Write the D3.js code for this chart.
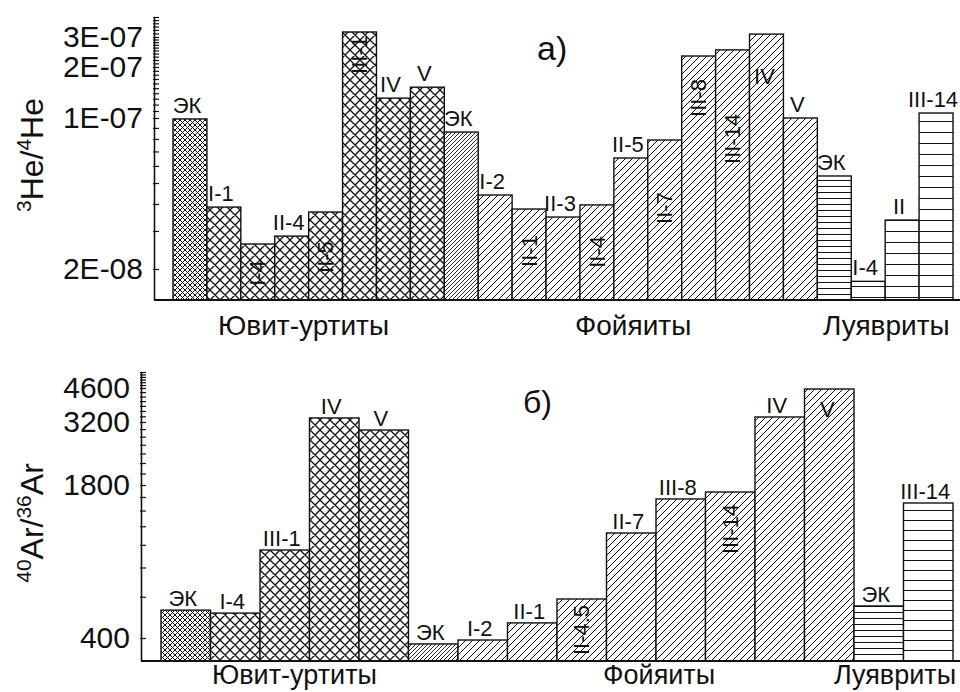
<!DOCTYPE html>
<html>
<head>
<meta charset="utf-8">
<script src="https://cdn.jsdelivr.net/npm/d3@7"></script>
<style>
  body { margin: 0; background: #fff; }
  svg { display: block; }
  text { font-family: "Liberation Sans", Arial, sans-serif; fill: #111; }
</style>
</head>
<body>
<div id="chart"></div>
<script>
// rock groups: 0 = Ювит-уртиты, 1 = Фойяиты, 2 = Луявриты
const rockNames = ["Ювит-уртиты", "Фойяиты", "Луявриты"];

// panel a) 3He/4He
const heCats = ["ЭК", "I-1", "I-4", "II-4", "II-5", "III-1", "IV", "V",
                "ЭК", "I-2", "II-1", "II-3", "II-4", "II-5", "II-7", "III-8", "III-14", "IV", "V",
                "ЭК", "I-4", "II", "III-14"];
const heRocks = [0, 0, 0, 0, 0, 0, 0, 0,
                 1, 1, 1, 1, 1, 1, 1, 1, 1, 1, 1,
                 2, 2, 2, 2];
const heValues = [9.9e-8, 3.87e-8, 2.61e-8, 2.84e-8, 3.67e-8, 3.14e-7, 1.31e-7, 1.52e-7,
                  8.61e-8, 4.40e-8, 3.79e-8, 3.48e-8, 3.96e-8, 6.53e-8, 7.91e-8, 2.32e-7, 2.52e-7, 3.08e-7, 1.0e-7,
                  5.39e-8, 1.83e-8, 3.37e-8, 1.07e-7];
const heTicks = [2e-8, 1e-7, 2e-7, 3e-7];
const heTickLabels = ["2E-08", "1E-07", "2E-07", "3E-07"];

// panel б) 40Ar/36Ar
const arCats = ["ЭК", "I-4", "III-1", "IV", "V",
                "ЭК", "I-2", "II-1", "II-4.5", "II-7", "III-8", "III-14", "IV", "V",
                "ЭК", "III-14"];
const arRocks = [0, 0, 0, 0, 0,
                 1, 1, 1, 1, 1, 1, 1, 1, 1,
                 2, 2];
const arValues = [526, 511, 950, 3341, 2974,
                  377, 392, 464, 587, 1123, 1569, 1680, 3376, 4551,
                  548, 1508];
const arTicks = [400, 1800, 3200, 4600];
const arTickLabels = ["400", "1800", "3200", "4600"];

const width = 960, height = 692;

const svg = d3.select("#chart").append("svg")
    .attr("width", width)
    .attr("height", height);

// hatch patterns
const defs = svg.append("defs");
function pattern(id, w, h, d, sw) {
    let p = defs.append("pattern")
        .attr("id", id)
        .attr("patternUnits", "userSpaceOnUse")
        .attr("width", w)
        .attr("height", h);
    p.append("rect").attr("width", w).attr("height", h).attr("fill", "#fff");
    p.append("path").attr("d", d).attr("stroke", "#111").attr("stroke-width", sw).attr("fill", "none");
}
const slash = s => `M0,${s}L${s},0M-1,1L1,-1M${s - 1},${s + 1}L${s + 1},${s - 1}`;
const back = s => `M0,0L${s},${s}M-1,${s - 1}L1,${s + 1}M${s - 1},-1L${s + 1},1`;
pattern("xfine", 5, 5, slash(5) + back(5), 1);
pattern("xcoarse", 10, 10, slash(10) + back(10), 1.3);
pattern("dfine", 4, 4, slash(4), 0.9);
pattern("diag", 7, 7, slash(7), 1);
pattern("hfine", 8, 6, "M0,0.5H8", 1);
pattern("horiz", 8, 11, "M0,0.5H8", 1);
pattern("horiz2", 8, 10, "M0,0.5H8", 1);

function fillFor(rock, cat, horizId) {
    let ek = cat == "ЭК";
    if (rock == 0) return ek ? "url(#xfine)" : "url(#xcoarse)";
    if (rock == 1) return ek ? "url(#dfine)" : "url(#diag)";
    return ek ? "url(#hfine)" : `url(#${horizId})`;
}

function drawPanel(c) {
    let g = svg.append("g");

    let x = d3.scaleBand()
        .domain(d3.range(c.cats.length))
        .range(c.xRange)
        .padding(0);

    let y = d3.scaleLog()
        .domain(c.yStops)
        .range(c.yPix);

    let base = c.yPix[0];

    // bars
    g.selectAll(".bar")
        .data(c.values)
        .join("rect")
        .attr("class", "bar")
        .attr("x", (d, i) => x(i))
        .attr("width", x.bandwidth())
        .attr("y", d => y(d))
        .attr("height", d => base - y(d))
        .attr("fill", (d, i) => fillFor(c.rocks[i], c.cats[i], c.horizId))
        .attr("stroke", "#111")
        .attr("stroke-width", 1.4);

    // bar labels
    c.values.forEach((v, i) => {
        let cx = x(i) + x.bandwidth() / 2;
        let top = y(v);
        if (c.inside[i] !== undefined) {
            g.append("text")
                .attr("transform", `translate(${cx},${top + c.inside[i]}) rotate(-90)`)
                .attr("text-anchor", "middle")
                .attr("dy", "0.35em")
                .attr("font-size", 22)
                .text(c.cats[i]);
        } else if (c.insideFlat[i] !== undefined) {
            g.append("text")
                .attr("x", cx - 2)
                .attr("y", top + c.insideFlat[i])
                .attr("text-anchor", "middle")
                .attr("font-size", 22)
                .text(c.cats[i]);
        } else {
            g.append("text")
                .attr("x", cx - 3)
                .attr("y", top - c.labelGap)
                .attr("text-anchor", "middle")
                .attr("font-size", 22)
                .text(c.cats[i]);
        }
    });

    // y axis with minor ticks
    let minor = g.append("g")
        .attr("transform", `translate(${c.axisX},0)`)
        .call(d3.axisRight(y).tickValues(c.minor).tickSize(5).tickSizeOuter(0).tickFormat(""));
    minor.select(".domain").attr("stroke", "#111").attr("stroke-width", 1.6);
    minor.selectAll(".tick line").attr("stroke", "#111").attr("stroke-width", 1.2).attr("x1", -1);

    let labels = g.append("g")
        .attr("transform", `translate(${c.axisX},0)`)
        .call(d3.axisLeft(y).tickValues(c.ticks).tickSize(0).tickPadding(11)
            .tickFormat((d, i) => c.tickLabels[i]));
    labels.select(".domain").remove();
    labels.attr("font-size", 30).attr("font-family", null);
    labels.selectAll("text").attr("fill", "#111");

    // x axis line
    g.append("line")
        .attr("x1", c.axisX).attr("x2", width)
        .attr("y1", base).attr("y2", base)
        .attr("stroke", "#111")
        .attr("stroke-width", 1.8);

    // group names
    rockNames.forEach((n, i) => {
        g.append("text")
            .attr("x", c.groupX[i])
            .attr("y", c.groupY)
            .attr("font-size", c.groupSize)
            .text(n);
    });

    // y title
    let t = g.append("text")
        .attr("transform", `translate(${c.titleX},${c.titleY}) rotate(-90)`)
        .attr("text-anchor", "middle")
        .attr("font-size", 32);
    let sup = false;
    c.title.forEach(([s, isSup]) => {
        t.append("tspan")
            .attr("font-size", isSup ? 21 : 32)
            .attr("dy", isSup ? -12 : (sup ? 12 : 0))
            .text(s);
        sup = isSup;
    });

    // panel letter
    g.append("text")
        .attr("x", c.panelX)
        .attr("y", c.panelY)
        .attr("font-size", c.panelSize)
        .text(c.panelLabel);
}

drawPanel({
    cats: heCats, rocks: heRocks, values: heValues,
    ticks: heTicks, tickLabels: heTickLabels,
    minor: d3.range(2, 37).map(i => i * 1e-8),
    yStops: [1.6e-8, 2e-8, 1e-7, 2e-7, 3e-7, 3.6e-7],
    yPix: [300, 269, 118, 67, 37, 17],
    xRange: [173, 953],
    axisX: 154,
    inside: { 2: 29, 4: 45, 5: 23, 10: 42, 12: 47, 14: 68, 15: 42, 16: 89 },
    insideFlat: { 17: 50 },
    labelGap: 6,
    horizId: "horiz",
    groupX: [218, 575, 823], groupY: 335, groupSize: 28,
    title: [["3", true], ["He/", false], ["4", true], ["He", false]],
    titleX: 43, titleY: 155,
    panelLabel: "а)", panelX: 537, panelY: 60, panelSize: 34
});

drawPanel({
    cats: arCats, rocks: arRocks, values: arValues,
    ticks: arTicks, tickLabels: arTickLabels,
    minor: d3.range(2, 30).map(i => i * 200),
    yStops: [318, 400, 1800, 3200, 4600, 5800],
    yPix: [661, 638, 485, 422, 388, 372],
    xRange: [161, 953],
    axisX: 141,
    inside: { 8: 31, 11: 37 },
    insideFlat: { 13: 28 },
    labelGap: 4,
    horizId: "horiz2",
    groupX: [212, 603, 834], groupY: 684, groupSize: 27,
    title: [["40", true], ["Ar/", false], ["36", true], ["Ar", false]],
    titleX: 43, titleY: 523,
    panelLabel: "б)", panelX: 523, panelY: 413, panelSize: 32
});
</script>
</body>
</html>
